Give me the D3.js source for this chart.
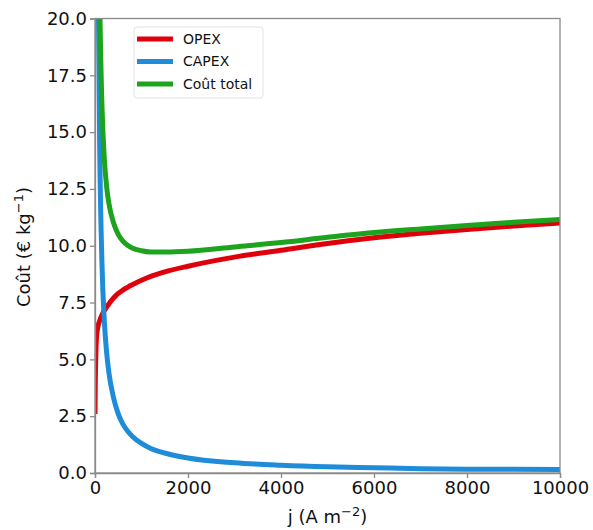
<!DOCTYPE html>
<html lang="fr">
<head>
    <meta charset="UTF-8">
    <title>Coût vs j</title>
    <script src="https://cdn.jsdelivr.net/npm/d3@7"></script>
    <style>
        body { margin: 0; background: #fff; }
        .axis path, .axis line { stroke: #8a8a8a; stroke-width: 1.3; }
        .axis text { font-family: "DejaVu Sans", sans-serif; font-size: 18px; fill: #111; }
        .lbl { font-family: "DejaVu Sans", sans-serif; font-size: 18px; fill: #111; }
        .leg text { font-family: "DejaVu Sans", sans-serif; font-size: 14px; fill: #111; }
    </style>
</head>
<body>
<script>
// densité de courant j (A m-2)
const jOpex = [0, 5, 15, 30, 50, 75, 100, 150, 200, 250, 300, 400, 500, 600, 700, 800, 1000, 1200, 1500, 2000, 3000, 4000, 5000, 6000, 7000, 8000, 9000, 10000];
const opex  = [2.6, 3.8, 5.0, 5.9, 6.3, 6.55, 6.7, 6.95, 7.15, 7.3, 7.45, 7.7, 7.9, 8.05, 8.17, 8.28, 8.48, 8.65, 8.85, 9.1, 9.5, 9.8, 10.1, 10.35, 10.55, 10.72, 10.87, 11.0];

const jCapex = [60, 75, 100, 150, 200, 250, 300, 400, 500, 600, 700, 800, 1000, 1200, 1500, 2000, 3000, 4000, 5000, 6000, 7000, 8000, 9000, 10000];
const capex  = [24, 20, 14.5, 9.2, 6.7, 5.3, 4.4, 3.3, 2.6, 2.15, 1.85, 1.62, 1.3, 1.08, 0.88, 0.66, 0.45, 0.34, 0.27, 0.23, 0.19, 0.17, 0.16, 0.15];
const total  = [30.3, 26.55, 21.2, 16.15, 13.85, 12.6, 11.85, 11.0, 10.5, 10.2, 10.02, 9.9, 9.78, 9.73, 9.73, 9.76, 9.95, 10.14, 10.37, 10.58, 10.74, 10.89, 11.03, 11.15];

const xTicks = [0, 2000, 4000, 6000, 8000, 10000];
const yTicks = [0, 2.5, 5, 7.5, 10, 12.5, 15, 17.5, 20];

const width = 593, height = 530;
const margin = {left: 95, right: 33, top: 18.5, bottom: 57};
const w = width - margin.left - margin.right;
const h = height - margin.top - margin.bottom;

const svg = d3.select('body').append('svg')
    .attr('width', width)
    .attr('height', height);

const g = svg.append('g')
    .attr('transform', 'translate(' + margin.left + ',' + margin.top + ')');

const x = d3.scaleLinear().domain([0, 10000]).range([0, w]);
const y = d3.scaleLinear().domain([0, 20]).range([h, 0]);

g.append('clipPath').attr('id', 'clip')
    .append('rect').attr('width', w).attr('height', h);

const line = d3.line()
    .x(d => x(d[0]))
    .y(d => y(d[1]))
    .curve(d3.curveMonotoneX);

const series = [
    {name: 'OPEX', color: '#e0000b', pts: d3.zip(jOpex, opex)},
    {name: 'CAPEX', color: '#1e8cd8', pts: d3.zip(jCapex, capex)},
    {name: 'Coût total', color: '#1ea31e', pts: d3.zip(jCapex, total)}
];

g.append('g').attr('clip-path', 'url(#clip)')
    .selectAll('path')
    .data(series)
    .enter()
    .append('path')
    .attr('d', d => line(d.pts))
    .attr('fill', 'none')
    .attr('stroke', d => d.color)
    .attr('stroke-width', 5);

// cadre
g.append('rect')
    .attr('width', w).attr('height', h)
    .attr('fill', 'none')
    .attr('stroke', '#8a8a8a')
    .attr('stroke-width', 1.3);

g.append('g')
    .attr('class', 'axis')
    .attr('transform', 'translate(0,' + h + ')')
    .call(d3.axisBottom(x).tickValues(xTicks).tickFormat(d3.format('d')).tickSize(5).tickPadding(3));

g.append('g')
    .attr('class', 'axis')
    .call(d3.axisLeft(y).tickValues(yTicks).tickFormat(d3.format('.1f')).tickSize(5).tickPadding(3));

// titres des axes
const xl = svg.append('text')
    .attr('class', 'lbl')
    .attr('x', margin.left + w / 2)
    .attr('y', 523)
    .attr('text-anchor', 'middle');
xl.append('tspan').text('j (A m');
xl.append('tspan').attr('dy', -7).attr('font-size', 13).text('−2');
xl.append('tspan').attr('dy', 7).text(')');

const yl = svg.append('text')
    .attr('class', 'lbl')
    .attr('transform', 'translate(30,247) rotate(-90)')
    .attr('text-anchor', 'middle');
yl.append('tspan').text('Coût (€ kg');
yl.append('tspan').attr('dy', -7).attr('font-size', 13).text('−1');
yl.append('tspan').attr('dy', 7).text(')');

// légende
const leg = svg.append('g').attr('class', 'leg');
leg.append('rect')
    .attr('x', 134).attr('y', 27)
    .attr('width', 129).attr('height', 71)
    .attr('rx', 3)
    .attr('fill', '#fff')
    .attr('stroke', '#e2e2e2');

const items = leg.selectAll('g.item')
    .data(series)
    .enter()
    .append('g')
    .attr('class', 'item')
    .attr('transform', (d, i) => 'translate(137,' + (39 + i * 22.5) + ')');
items.append('line')
    .attr('x1', 0).attr('x2', 36)
    .attr('stroke', d => d.color)
    .attr('stroke-width', 5);
items.append('text')
    .attr('x', 46).attr('dy', '0.35em')
    .text(d => d.name);
</script>
</body>
</html>
